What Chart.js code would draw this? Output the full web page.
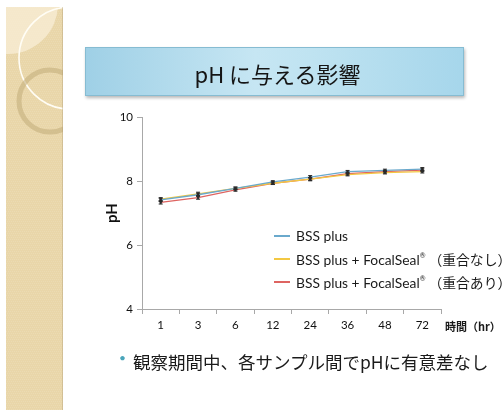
<!DOCTYPE html>
<html lang="ja">
<head>
<meta charset="utf-8">
<title>pH に与える影響</title>
<script src="https://cdn.jsdelivr.net/npm/chart.js@4/dist/chart.umd.min.js"></script>
<style>
  html, body { margin: 0; padding: 0; background: #fff; }
  body { width: 504px; height: 410px; overflow: hidden; position: relative;
         font-family: "Lato", "Noto Sans CJK JP", sans-serif; }
  #deco { position: absolute; left: 0; top: 0; }
  #chart { position: absolute; left: 0; top: 0; }
  .title-box { position: absolute; left: 85px; top: 47px; width: 377px; height: 47px;
    background: linear-gradient(90deg, #9fd0e6 0%, #c6e6f3 45%, #bfe3f1 60%, #a6d6eb 100%);
    border: 1px solid #86bcd2; box-shadow: 1px 2px 3px rgba(0,0,0,0.28);
    display: flex; align-items: center; justify-content: center;
    font-family: "Noto Sans CJK JP", sans-serif; font-size: 22px; color: #151515; }
  .title-box span { position: relative; left: 3px; top: 1px; }
  #legend { position: absolute; left: 274px; top: 224px; white-space: nowrap; }
  .lg-row { height: 23px; display: flex; align-items: center; font-size: 13.8px; color: #1a1a1a;
            font-family: "Lato", "Noto Sans CJK JP", sans-serif; }
  .lg-line { width: 16px; height: 2px; margin-right: 6px; }
  .lg-row sup { font-size: 7px; position: relative; top: -1px; margin-right: 3px; }
  .x-title { position: absolute; left: 445px; top: 318px; font-size: 11px; font-weight: 600;
             color: #1a1a1a; font-family: "Noto Sans CJK JP", sans-serif; white-space: nowrap; }
  .bullet { position: absolute; left: 119px; top: 350px; font-size: 12px; color: #4aa5ba; }
  .note { position: absolute; left: 133px; top: 349px; font-size: 17.5px; color: #1a1a1a;
          font-family: "Noto Sans CJK JP", sans-serif; white-space: nowrap; line-height: 26px; }
</style>
</head>
<body>
<canvas id="deco" width="504" height="410"></canvas>
<canvas id="chart" width="504" height="410"></canvas>
<div class="title-box"><span>pH に与える影響</span></div>
<div id="legend"></div>
<div class="x-title">時間（hr）</div>
<div class="bullet">•</div>
<div class="note">観察期間中、各サンプル間でpHに有意差なし</div>

<script>
// Sampling times (hours) and measured pH for each solution
const hours = ['1', '3', '6', '12', '24', '36', '48', '72'];
const seriesNames = [
  'BSS plus',
  'BSS plus + FocalSeal®（重合なし）',
  'BSS plus + FocalSeal®（重合あり）'
];
const seriesColors = ['#6aa9cc', '#f3c843', '#de6461'];
const phBss       = [7.41, 7.57, 7.77, 7.97, 8.12, 8.29, 8.33, 8.37];
const phUnpolymer = [7.43, 7.60, 7.77, 7.93, 8.06, 8.20, 8.26, 8.29];
const phPolymer   = [7.33, 7.48, 7.72, 7.93, 8.06, 8.23, 8.29, 8.34];
// standard deviation of each measurement
const sdBss       = [0.05, 0.05, 0.04, 0.04, 0.05, 0.04, 0.04, 0.05];
const sdUnpolymer = [0.05, 0.05, 0.04, 0.04, 0.05, 0.04, 0.04, 0.04];
const sdPolymer   = [0.05, 0.05, 0.04, 0.04, 0.05, 0.04, 0.04, 0.04];
const yTicks = [4, 6, 8, 10];

// Decorative beige strip on the left of the slide
(function drawStrip() {
  const c = document.getElementById('deco').getContext('2d');
  c.save();
  c.beginPath();
  c.rect(6, 7, 57, 403);
  c.clip();
  c.fillStyle = '#e9d6a9';
  c.fillRect(6, 7, 57, 403);
  // fine grain
  c.fillStyle = 'rgba(255,255,255,0.12)';
  for (let y = 7; y < 410; y += 2) {
    for (let x = 6 + (y % 4 === 1 ? 1 : 0); x < 63; x += 2) c.fillRect(x, y, 1, 1);
  }
  // pale area in the upper corner
  c.fillStyle = 'rgba(248,238,215,0.75)';
  c.beginPath();
  c.arc(8, 4, 50, 0, Math.PI * 2);
  c.fill();
  // thin light ring
  c.strokeStyle = 'rgba(255,253,245,1)';
  c.lineWidth = 1.6;
  c.beginPath();
  c.arc(70, 58, 51, 0, Math.PI * 2);
  c.stroke();
  // thick soft ring
  c.strokeStyle = 'rgba(196,175,125,0.6)';
  c.lineWidth = 5;
  c.beginPath();
  c.arc(50, 101, 31, 0, Math.PI * 2);
  c.stroke();
  c.restore();
  c.fillStyle = 'rgba(170,150,110,0.35)';
  c.fillRect(62, 7, 1, 403);
})();

// Error bars drawn from the sd arrays through the chart scales
const errorBars = {
  id: 'errorBars',
  afterDatasetsDraw(chart) {
    const ctx = chart.ctx;
    const ys = chart.scales.y;
    chart.data.datasets.forEach((ds, di) => {
      const meta = chart.getDatasetMeta(di);
      ctx.save();
      ctx.strokeStyle = '#2a2a2a';
      ctx.lineWidth = 1;
      meta.data.forEach((pt, i) => {
        const v = ds.data[i], e = ds.sd[i];
        const yHi = ys.getPixelForValue(v + e), yLo = ys.getPixelForValue(v - e);
        ctx.beginPath();
        ctx.moveTo(pt.x, yHi); ctx.lineTo(pt.x, yLo);
        ctx.moveTo(pt.x - 2, yHi); ctx.lineTo(pt.x + 2, yHi);
        ctx.moveTo(pt.x - 2, yLo); ctx.lineTo(pt.x + 2, yLo);
        ctx.stroke();
      });
      ctx.restore();
    });
  }
};

const values = [phBss, phUnpolymer, phPolymer];
const sds = [sdBss, sdUnpolymer, sdPolymer];

const chart = new Chart(document.getElementById('chart'), {
  type: 'line',
  data: {
    labels: hours,
    datasets: seriesNames.map((name, i) => ({
      label: name,
      data: values[i],
      sd: sds[i],
      borderColor: seriesColors[i],
      backgroundColor: seriesColors[i],
      borderWidth: 1.3,
      tension: 0,
      pointStyle: 'rect',
      pointRadius: 1.7,
      pointBackgroundColor: '#333',
      pointBorderColor: '#333',
      pointBorderWidth: 0
    }))
  },
  options: {
    responsive: false,
    animation: false,
    devicePixelRatio: 1,
    layout: { padding: { left: 100, top: 117, right: 63, bottom: 76 } },
    plugins: { legend: { display: false }, tooltip: { enabled: false } },
    scales: {
      x: {
        offset: true,
        afterFit(s) { s.height = 25; },
        grid: { display: true, drawOnChartArea: false, drawTicks: true, tickLength: 5,
                offset: true, color: '#a8a8a8' },
        border: { color: '#a8a8a8', width: 1 },
        ticks: { color: '#111', padding: 4, maxRotation: 0,
                 font: { family: 'Lato', size: 11.5 } }
      },
      y: {
        min: yTicks[0],
        max: yTicks[yTicks.length - 1],
        afterFit(s) { s.width = 42; },
        afterBuildTicks(s) { s.ticks = yTicks.map(v => ({ value: v })); },
        grid: { display: true, drawOnChartArea: false, drawTicks: true, tickLength: 5,
                color: '#a8a8a8' },
        border: { color: '#a8a8a8', width: 1 },
        ticks: { color: '#111', padding: 4, font: { family: 'Lato', size: 11.5 } },
        title: { display: true, text: 'pH', color: '#111',
                 padding: { top: 3, bottom: 0 },
                 font: { family: 'Lato', size: 15, weight: 'bold' } }
      }
    }
  },
  plugins: [errorBars]
});

// Legend built from the chart's datasets
const legendEl = document.getElementById('legend');
chart.data.datasets.forEach(ds => {
  const row = document.createElement('div');
  row.className = 'lg-row';
  const line = document.createElement('span');
  line.className = 'lg-line';
  line.style.background = ds.borderColor;
  const txt = document.createElement('span');
  txt.innerHTML = ds.label.replace('®', '<sup>®</sup>');
  row.appendChild(line);
  row.appendChild(txt);
  legendEl.appendChild(row);
});
</script>
</body>
</html>
